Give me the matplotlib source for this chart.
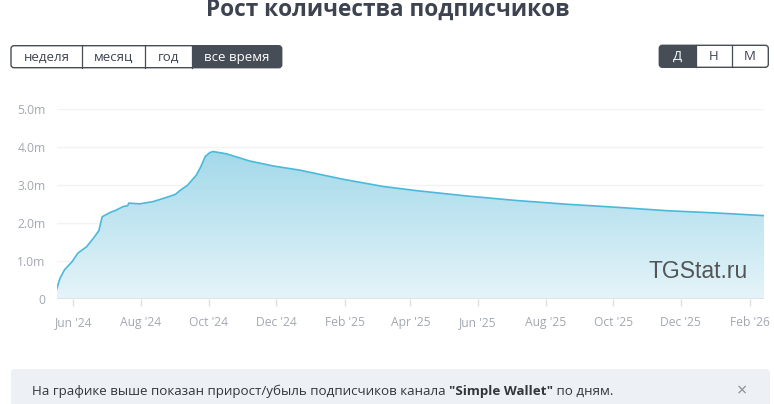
import matplotlib
matplotlib.use('Agg')
import matplotlib.pyplot as plt
import matplotlib.dates as mdates
import numpy as np
import datetime as dt
from matplotlib.patches import FancyBboxPatch, Rectangle
from matplotlib.colors import LinearSegmentedColormap

# ---------------- data ----------------
dates = ["2024-05-17", "2024-05-20", "2024-05-24", "2024-05-31", "2024-06-05",
         "2024-06-13", "2024-06-19", "2024-06-24", "2024-06-27", "2024-07-04",
         "2024-07-10", "2024-07-16", "2024-07-20", "2024-07-21", "2024-07-31",
         "2024-08-12", "2024-08-24", "2024-09-01", "2024-09-06", "2024-09-12",
         "2024-09-20", "2024-09-24", "2024-09-28", "2024-10-02", "2024-10-05",
         "2024-10-17", "2024-11-07", "2024-11-28", "2024-12-22", "2025-01-30",
         "2025-03-07", "2025-04-06", "2025-05-21", "2025-07-05", "2025-08-20",
         "2025-10-04", "2025-11-18", "2026-01-02", "2026-02-14"]
subscribers_m = [0.26, 0.54, 0.76, 0.98, 1.20,
                 1.37, 1.59, 1.79, 2.16, 2.27,
                 2.34, 2.43, 2.45, 2.52, 2.50,
                 2.56, 2.67, 2.75, 2.87, 2.99,
                 3.26, 3.48, 3.75, 3.85, 3.88,
                 3.82, 3.63, 3.50, 3.39, 3.15,
                 2.96, 2.85, 2.71, 2.59, 2.49,
                 2.41, 2.32, 2.26, 2.19]
y_ticks = [0, 1, 2, 3, 4, 5]
y_tick_labels = ["0", "1.0m", "2.0m", "3.0m", "4.0m", "5.0m"]
title = "Рост количества подписчиков"
period_buttons = ["неделя", "месяц", "год", "все время"]
scale_buttons = ["Д", "Н", "М"]
watermark = "TGStat.ru"
note_parts = ["На графике выше показан прирост/убыль подписчиков канала ", "\"Simple Wallet\"", " по дням."]

# ---------------- figure ----------------
W, H = 774, 404
fig = plt.figure(figsize=(W / 100, H / 100), dpi=100)
fig.patch.set_facecolor('white')

ax_l, ax_r, ax_t, ax_b = 56.7, 764.0, 109.0, 298.7
ax = fig.add_axes([ax_l / W, (H - ax_b) / H, (ax_r - ax_l) / W, (ax_b - ax_t) / H])
ax.set_facecolor('none')

x = mdates.date2num([dt.date.fromisoformat(d) for d in dates])
y = np.array(subscribers_m)

poly = ax.fill_between(x, y, 0, facecolor='none', edgecolor='none')
cmap = LinearSegmentedColormap.from_list('g', ['#e5f4f9', '#a3d9ea'])
grad = np.linspace(0, 1, 256).reshape(-1, 1)
im = ax.imshow(grad, extent=[x[0], x[-1], 0, y.max()], origin='lower',
               aspect='auto', cmap=cmap, zorder=1, interpolation='bilinear')
im.set_clip_path(poly.get_paths()[0], transform=ax.transData)
ax.plot(x, y, color='#4cb9db', lw=1.2, zorder=3, solid_joinstyle='round')

ax.set_xlim(x[0], x[-1])
ax.set_ylim(0, 5)
ax.set_yticks(y_ticks)
ax.set_yticklabels(y_tick_labels)
ax.yaxis.grid(True, color='#f2f3f5', lw=1, zorder=0)
ax.set_axisbelow(True)
ax.axhline(0, color='#dde0e5', lw=1.3, zorder=4)

ax.xaxis.set_major_locator(mdates.MonthLocator(bymonth=[2, 4, 6, 8, 10, 12]))
ax.xaxis.set_major_formatter(mdates.DateFormatter("%b '%y"))

for s in ax.spines.values():
    s.set_visible(False)
ax.tick_params(axis='y', length=0, pad=8, labelsize=8.7, labelcolor='#a3a8b0')
ax.tick_params(axis='x', length=5, width=1, color='#dde0e5', pad=7.5,
               labelsize=8.7, labelcolor='#a3a8b0')
for lab in ax.get_xticklabels() + ax.get_yticklabels():
    lab.set_fontfamily(['Open Sans', 'DejaVu Sans'])

# ---------------- overlay (pixel coordinates) ----------------
ov = fig.add_axes([0, 0, 1, 1], zorder=5)
ov.set_xlim(0, W)
ov.set_ylim(H, 0)
ov.axis('off')
ov.patch.set_alpha(0)

ov.text(388, 15.7, title, ha='center', va='baseline', fontsize=16.3, fontweight='bold',
        color='#3d4350', family=['Open Sans', 'DejaVu Sans'])

dark = '#474d57'

def button_group(labels, edges, active, y0, y1):
    outline = FancyBboxPatch((edges[0], y0), edges[-1] - edges[0], y1 - y0,
                             boxstyle='round,pad=0,rounding_size=3',
                             fc='white', ec=dark, lw=1, zorder=1)
    ov.add_patch(outline)
    a0, a1 = edges[active], edges[active + 1]
    r = Rectangle((a0, y0), a1 - a0, y1 - y0, fc=dark, ec='none', zorder=2)
    ov.add_patch(r)
    r.set_clip_path(outline)
    for e in edges[1:-1]:
        ov.plot([e, e], [y0, y1], color=dark, lw=0.9, zorder=3)
    for i, lab in enumerate(labels):
        cx = (edges[i] + edges[i + 1]) / 2
        ov.text(cx, (y0 + y1) / 2 + 0.5, lab, ha='center', va='center', fontsize=9.5,
                color='white' if i == active else '#3d4350', zorder=4,
                family=['Open Sans', 'DejaVu Sans'])

button_group(period_buttons, [11, 82.3, 145.3, 192.3, 281.7], 3, 45.7, 67.7)
button_group(scale_buttons, [659.3, 696.3, 731.7, 768.3], 0, 45.3, 67.3)

ov.text(698, 272, watermark, ha='center', va='center', fontsize=16.5,
        color='#555555', family=['Liberation Sans', 'DejaVu Sans'], zorder=6)

banner = FancyBboxPatch((11, 369), 759, 60, boxstyle='round,pad=0,rounding_size=4',
                        fc='#edf0f4', ec='none', zorder=1)
ov.add_patch(banner)
fam = ['Open Sans', 'DejaVu Sans']
t1 = ov.text(32, 391, note_parts[0], ha='left', va='center', fontsize=9.6,
             color='#33373d', family=fam, zorder=3)
t2 = ov.annotate(note_parts[1], xy=(1, 0), xycoords=t1, ha='left', va='bottom',
                 fontsize=9.6, fontweight='bold', color='#33373d', family=fam, zorder=3)
t3 = ov.annotate(note_parts[2], xy=(1, 0), xycoords=t2, ha='left', va='bottom',
                 fontsize=9.6, color='#33373d', family=fam, zorder=3)
ov.text(742, 391, "×", ha='center', va='center', fontsize=13, color='#8a9099',
        family=fam, zorder=3)

fig.savefig('out.png', dpi=100, facecolor='white')
